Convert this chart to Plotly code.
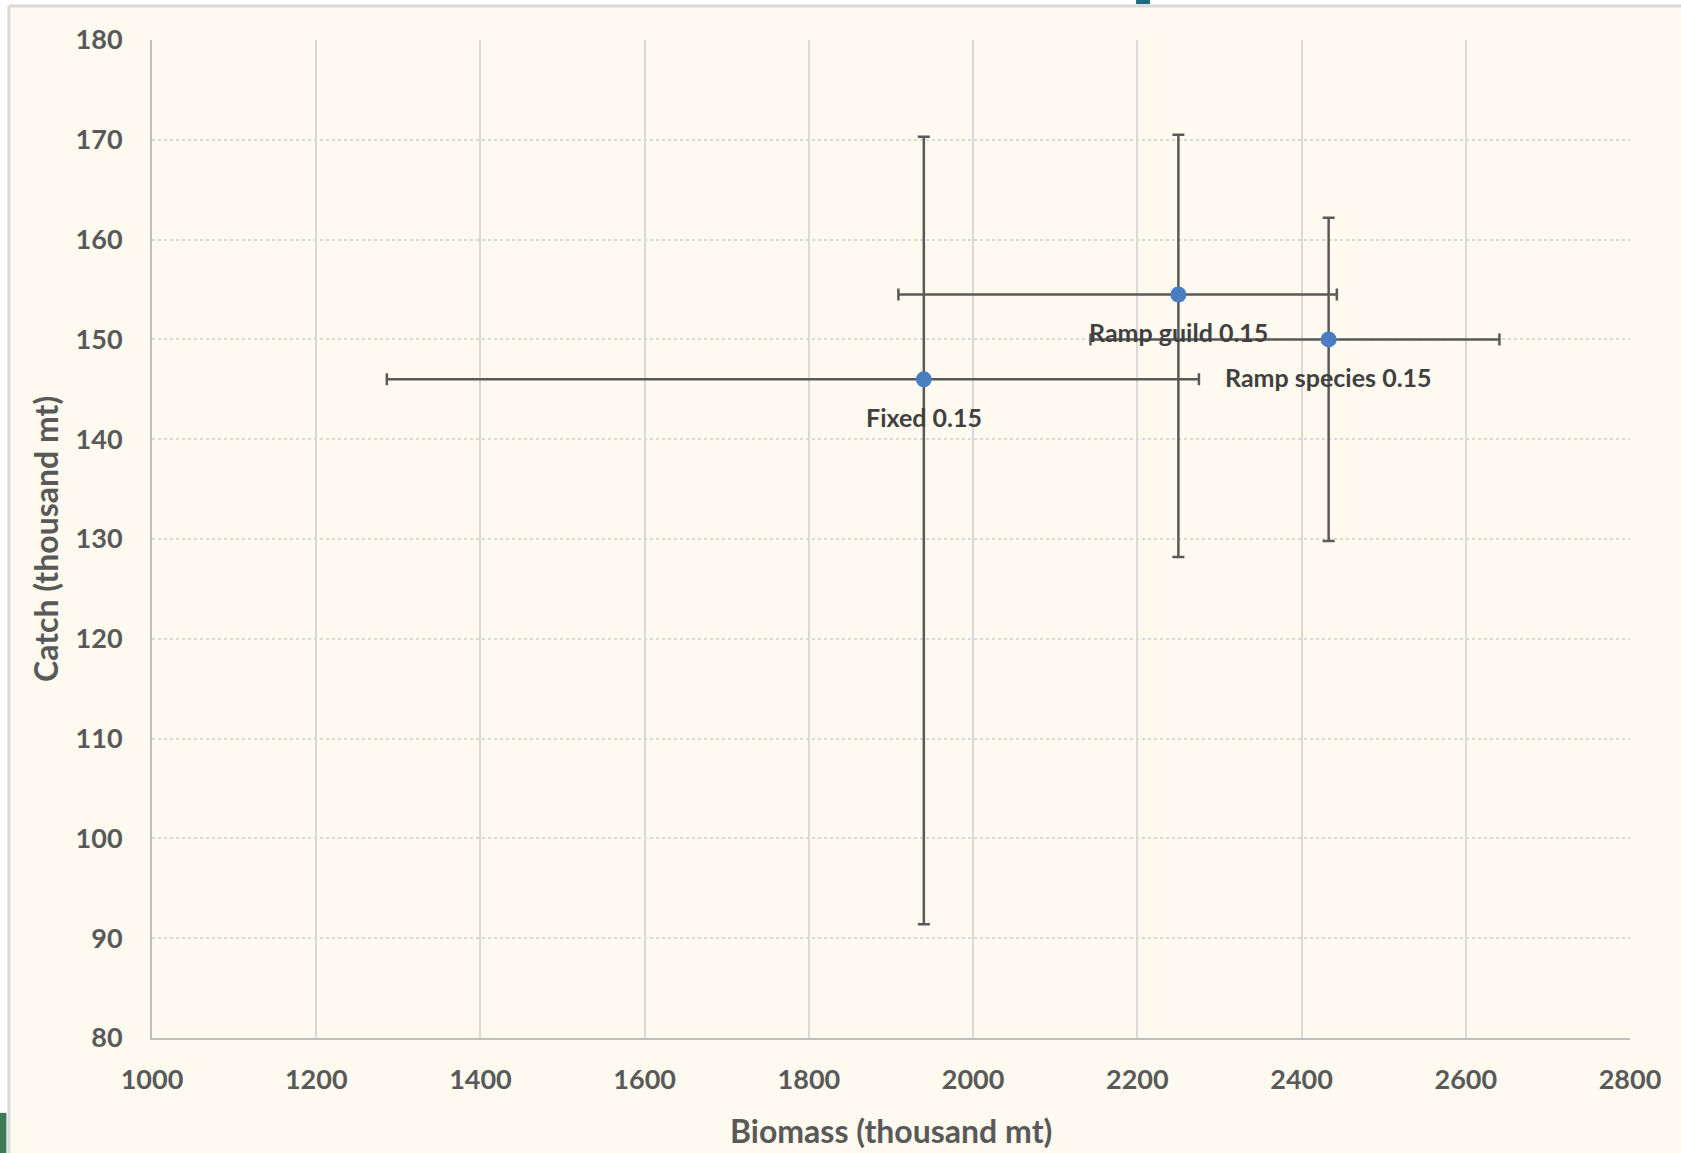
import plotly.graph_objects as go

# Harvest strategy outcomes: mean biomass vs mean catch with ranges
strategies = ["Fixed 0.15", "Ramp guild 0.15", "Ramp species 0.15"]
biomass = [1940, 2250, 2433]
biomass_low = [1286, 1909, 2143]
biomass_high = [2275, 2443, 2641]
catch = [146.0, 154.5, 150.0]
catch_low = [91.4, 128.2, 129.8]
catch_high = [170.3, 170.5, 162.2]

x_ticks = [1000, 1200, 1400, 1600, 1800, 2000, 2200, 2400, 2600, 2800]
y_ticks = [80, 90, 100, 110, 120, 130, 140, 150, 160, 170, 180]

CREAM = "#FEFAEF"
TEXT = "#595959"
GRID = "#D9D9D9"
BAR = "#595959"
FONT = "Lato"

fig = go.Figure()
fig.add_trace(go.Scatter(
    x=biomass,
    y=catch,
    mode="markers",
    marker=dict(color="#4A7DC2", size=16),
    error_x=dict(
        type="data", symmetric=False,
        array=[h - m for h, m in zip(biomass_high, biomass)],
        arrayminus=[m - l for l, m in zip(biomass_low, biomass)],
        color=BAR, thickness=2.5, width=6,
    ),
    error_y=dict(
        type="data", symmetric=False,
        array=[h - m for h, m in zip(catch_high, catch)],
        arrayminus=[m - l for l, m in zip(catch_low, catch)],
        color=BAR, thickness=2.5, width=6,
    ),
    showlegend=False,
    hoverinfo="x+y",
))

# Point labels sit just below each marker
for name, xv, yv in zip(strategies, biomass, catch):
    fig.add_annotation(
        x=xv, y=yv, text=name, showarrow=False, yshift=-38,
        font=dict(family=FONT, size=25, color="#404040", weight="bold"),
    )

# Axis titles
fig.add_annotation(
    xref="paper", yref="paper", x=0.5, y=0, yshift=-92, showarrow=False,
    xanchor="center", yanchor="middle",
    text="Biomass (thousand mt)",
    font=dict(family=FONT, size=32, color=TEXT, weight="bold"),
)
fig.add_annotation(
    xref="paper", yref="paper", x=0, y=0.5, xshift=-107, showarrow=False,
    xanchor="center", yanchor="middle",
    text="Catch (thousand mt)", textangle=-90,
    font=dict(family=FONT, size=32, color=TEXT, weight="bold"),
)

# Slide frame around the chart area
shapes = [
    dict(type="rect", xref="paper", yref="paper", x0=-0.2, x1=1.2, y0=1.034, y1=1.2,
         fillcolor="#FFFFFF", line=dict(width=0), layer="below"),
    dict(type="rect", xref="paper", yref="paper", x0=-0.2, x1=-0.0968, y0=-0.2, y1=1.2,
         fillcolor="#FFFFFF", line=dict(width=0), layer="below"),
    dict(type="line", xref="paper", yref="paper", x0=-0.0968, x1=1.1, y0=1.034, y1=1.034,
         line=dict(color=GRID, width=3)),
    dict(type="line", xref="paper", yref="paper", x0=-0.0968, x1=-0.0968, y0=-0.2, y1=1.034,
         line=dict(color=GRID, width=3)),
    dict(type="rect", xref="paper", yref="paper", x0=0.6658, x1=0.6752, y0=1.036, y1=1.045,
         fillcolor="#1B6A86", line=dict(width=0)),
    dict(type="rect", xref="paper", yref="paper", x0=-0.11, x1=-0.0985, y0=-0.12, y1=-0.075,
         fillcolor="#3E7A5C", line=dict(width=0)),
]

fig.update_layout(
    width=1681,
    height=1153,
    margin=dict(l=152, r=51, t=40, b=115),
    paper_bgcolor=CREAM,
    plot_bgcolor=CREAM,
    shapes=shapes,
    font=dict(family=FONT, color=TEXT),
    xaxis=dict(
        range=[1000, 2800],
        tickvals=x_ticks,
        ticktext=[str(v) for v in x_ticks],
        showgrid=True, gridcolor=GRID, gridwidth=2,
        showline=True, linecolor="#BFBFBF", linewidth=2,
        zeroline=False,
        ticks="", ticklabelstandoff=17,
        tickfont=dict(family=FONT, size=27, color=TEXT, weight="bold"),
    ),
    yaxis=dict(
        range=[80, 180],
        tickvals=y_ticks,
        ticktext=[str(v) for v in y_ticks],
        showgrid=True, gridcolor=GRID, gridwidth=2, griddash="dot",
        showline=True, linecolor="#BFBFBF", linewidth=2,
        zeroline=False,
        ticks="", ticklabelstandoff=22,
        tickfont=dict(family=FONT, size=27, color=TEXT, weight="bold"),
    ),
)

fig.write_html("out.html")
